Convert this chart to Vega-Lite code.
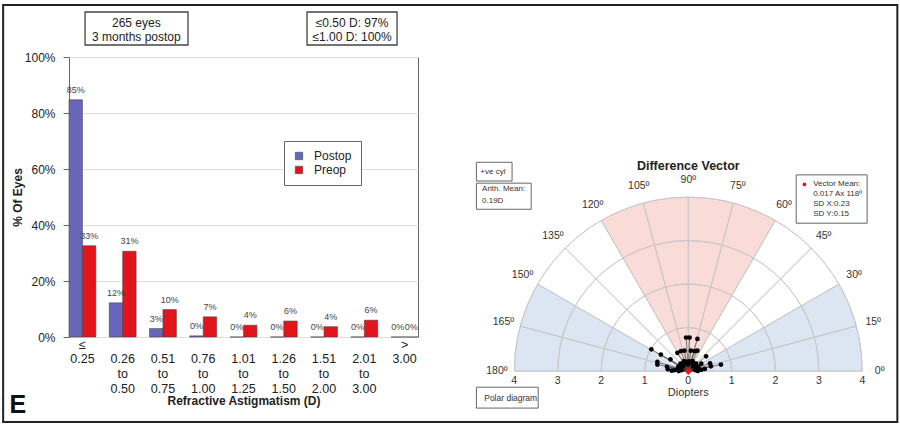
{
  "$schema": "https://vega.github.io/schema/vega-lite/v6.json",
  "padding": {"left": 2, "top": 4, "right": 0, "bottom": 0},
  "background": "white",
  "bounds": "flush",
  "spacing": 51,
  "config": {
    "font": "Liberation Sans",
    "view": {"stroke": null},
    "axis": {"labelFont": "Liberation Sans", "titleFont": "Liberation Sans"},
    "legend": {"labelFont": "Liberation Sans"}
  },
  "hconcat": [
    {
      "width": 349,
      "height": 280,
      "view": {"stroke": "#666", "strokeWidth": 1},
      "resolve": {"scale": {"x": "independent"}},
      "layer": [
        {
          "data": {
            "values": [
              {"range": "≤ 0.25", "group": "Postop", "pct": 0.847},
              {"range": "≤ 0.25", "group": "Preop", "pct": 0.326},
              {"range": "0.26 to 0.50", "group": "Postop", "pct": 0.122},
              {"range": "0.26 to 0.50", "group": "Preop", "pct": 0.306},
              {"range": "0.51 to 0.75", "group": "Postop", "pct": 0.03},
              {"range": "0.51 to 0.75", "group": "Preop", "pct": 0.098},
              {"range": "0.76 to 1.00", "group": "Postop", "pct": 0.004},
              {"range": "0.76 to 1.00", "group": "Preop", "pct": 0.072},
              {"range": "1.01 to 1.25", "group": "Postop", "pct": 0.0},
              {"range": "1.01 to 1.25", "group": "Preop", "pct": 0.042},
              {"range": "1.26 to 1.50", "group": "Postop", "pct": 0.0},
              {"range": "1.26 to 1.50", "group": "Preop", "pct": 0.057},
              {"range": "1.51 to 2.00", "group": "Postop", "pct": 0.0},
              {"range": "1.51 to 2.00", "group": "Preop", "pct": 0.037},
              {"range": "2.01 to 3.00", "group": "Postop", "pct": 0.0},
              {"range": "2.01 to 3.00", "group": "Preop", "pct": 0.06},
              {"range": "> 3.00", "group": "Postop", "pct": 0.0},
              {"range": "> 3.00", "group": "Preop", "pct": 0.0}
            ]
          },
          "layer": [
            {
              "mark": {"type": "bar", "stroke": "#444", "strokeWidth": 0.6},
              "encoding": {
                "x": {
                  "field": "range", "type": "nominal", "sort": null,
                  "scale": {"paddingInner": 0.3333, "paddingOuter": 0},
                  "axis": {
                    "title": "Refractive Astigmatism (D)",
                    "titleFontSize": 12, "titleFontWeight": "bold", "titleColor": "#222", "titlePadding": 1,
                    "labelAngle": 0, "labelFontSize": 12.5, "labelColor": "#222", "labelLineHeight": 14.7,
                    "labelPadding": 1, "ticks": false, "tickSize": 0, "domain": false,
                    "labelExpr": "indexof(datum.label, ' to ') >= 0 ? [' ', split(datum.label, ' ')[0], 'to', split(datum.label, ' ')[2]] : split(datum.label, ' ')"
                  }
                },
                "xOffset": {"field": "group", "type": "nominal", "sort": ["Postop", "Preop"], "scale": {"paddingInner": 0, "paddingOuter": 0}},
                "y": {
                  "field": "pct", "type": "quantitative",
                  "scale": {"domain": [0, 1], "nice": false},
                  "axis": {
                    "title": "% Of Eyes", "titleFontSize": 12, "titleFontWeight": "bold", "titleColor": "#222", "titlePadding": 0,
                    "format": ".0%", "values": [0, 0.1, 0.2, 0.3, 0.4, 0.5, 0.6, 0.7, 0.8, 0.9, 1.0],
                    "labelFontSize": 12, "labelColor": "#222", "labelPadding": 8,
                    "tickSize": 6, "tickColor": "#666", "domain": false,
                    "grid": true, "gridColor": "#dedede"
                  }
                },
                "color": {
                  "field": "group", "type": "nominal",
                  "scale": {"domain": ["Postop", "Preop"], "range": ["#6866ba", "#e3141c"]},
                  "legend": {
                    "title": null, "orient": "none", "legendX": 215, "legendY": 84,
                    "fillColor": "white", "strokeColor": "#666", "padding": 9,
                    "symbolType": "square", "symbolSize": 55, "symbolStrokeColor": "#444", "symbolStrokeWidth": 0.6,
                    "labelFontSize": 12, "labelColor": "#222", "labelOffset": 9, "rowPadding": 2
                  }
                }
              }
            },
            {
              "mark": {"type": "text", "baseline": "middle", "align": "center", "dy": -10, "fontSize": 9, "color": "#444"},
              "encoding": {
                "x": {"field": "range", "type": "nominal", "sort": null},
                "xOffset": {"field": "group", "type": "nominal", "sort": ["Postop", "Preop"]},
                "y": {"field": "pct", "type": "quantitative"},
                "text": {"field": "pct", "type": "quantitative", "format": ".0%"}
              }
            },
            {
              "data": {"values": [{}]},
              "mark": {"type": "text", "align": "left", "baseline": "alphabetic", "fontSize": 25, "fontWeight": "bold", "color": "#111", "dx": -73},
              "encoding": {
                "x": {"datum": "≤ 0.25", "type": "nominal"},
                "y": {"datum": -0.271, "type": "quantitative"},
                "text": {"value": "E"}
              }
            }
          ]
        },
        {
          "data": {"values": [{}]},
          "layer": [
            {
              "mark": {"type": "rect", "fill": "white", "stroke": "#444", "strokeWidth": 1.3},
              "encoding": {
                "x": {"datum": 0.046, "type": "quantitative", "scale": {"domain": [0, 1], "nice": false, "zero": false}, "axis": null},
                "x2": {"datum": 0.341},
                "y": {"datum": 1.0429, "type": "quantitative"},
                "y2": {"datum": 1.1607}
              }
            },
            {
              "mark": {"type": "rect", "fill": "white", "stroke": "#444", "strokeWidth": 1.3},
              "encoding": {
                "x": {"datum": 0.682, "type": "quantitative"},
                "x2": {"datum": 0.94},
                "y": {"datum": 1.0429, "type": "quantitative"},
                "y2": {"datum": 1.1607}
              }
            },
            {
              "mark": {"type": "text", "align": "center", "baseline": "middle", "fontSize": 12, "lineHeight": 13.4, "lineBreak": "\n", "color": "#222"},
              "encoding": {
                "x": {"datum": 0.193, "type": "quantitative"},
                "y": {"datum": 1.1204, "type": "quantitative"},
                "text": {"value": "265 eyes\n3 months postop"}
              }
            },
            {
              "mark": {"type": "text", "align": "center", "baseline": "middle", "fontSize": 12, "lineHeight": 13.4, "lineBreak": "\n", "color": "#222"},
              "encoding": {
                "x": {"datum": 0.811, "type": "quantitative"},
                "y": {"datum": 1.1204, "type": "quantitative"},
                "text": {"value": "≤0.50 D: 97%\n≤1.00 D: 100%"}
              }
            }
          ]
        }
      ]
    },
    {
      "width": 429,
      "height": 355,
      "layer": [
        {
          "data": {"values": [{}]},
          "mark": {"type": "rect", "filled": false, "stroke": "#222", "strokeWidth": 2},
          "encoding": {
            "x": {"datum": -15.747, "type": "quantitative", "scale": {"domain": [-5.04, 4.82], "nice": false, "zero": false}, "axis": null},
            "x2": {"datum": 4.805},
            "y": {"datum": -1.172, "type": "quantitative", "scale": {"domain": [-0.94, 7.22], "nice": false, "zero": false}, "axis": null},
            "y2": {"datum": 8.414}
          }
        },
        {
          "data": {"values": [
            {"a1": 60, "a2": 120, "zone": "vertical"},
            {"a1": 0, "a2": 30, "zone": "horizontal"},
            {"a1": 150, "a2": 180, "zone": "horizontal"}
          ]},
          "mark": {"type": "arc"},
          "encoding": {
            "x": {"datum": 0, "type": "quantitative"},
            "y": {"datum": 0, "type": "quantitative"},
            "theta": {"field": "a1", "type": "quantitative", "stack": null, "scale": {"domain": [0, 180], "range": [1.5708, -1.5708]}},
            "theta2": {"field": "a2"},
            "radius": {"datum": 4, "type": "quantitative", "scale": {"type": "linear", "domain": [0, 4], "range": [0, 174], "zero": true, "nice": false}},
            "fill": {"field": "zone", "type": "nominal", "scale": {"domain": ["vertical", "horizontal"], "range": ["#f9dcd7", "#dce5f2"]}, "legend": null}
          }
        },
        {
          "data": {"values": [{"r": 1}, {"r": 2}, {"r": 3}, {"r": 4}]},
          "mark": {"type": "arc", "filled": false, "stroke": "#c4c4c4", "strokeWidth": 0.8},
          "encoding": {
            "x": {"datum": 0, "type": "quantitative"},
            "y": {"datum": 0, "type": "quantitative"},
            "theta": {"datum": 0, "type": "quantitative", "stack": null},
            "theta2": {"datum": 180},
            "radius": {"field": "r", "type": "quantitative"},
            "radius2": {"field": "r"}
          }
        },
        {
          "data": {"values": [{"a": 0}, {"a": 15}, {"a": 30}, {"a": 45}, {"a": 60}, {"a": 75}, {"a": 90}, {"a": 105}, {"a": 120}, {"a": 135}, {"a": 150}, {"a": 165}, {"a": 180}]},
          "mark": {"type": "arc", "filled": false, "stroke": "#c4c4c4", "strokeWidth": 0.8},
          "encoding": {
            "x": {"datum": 0, "type": "quantitative"},
            "y": {"datum": 0, "type": "quantitative"},
            "theta": {"field": "a", "type": "quantitative", "stack": null},
            "theta2": {"field": "a"},
            "radius": {"datum": 4, "type": "quantitative"}
          }
        },
        {
          "data": {"values": [
            {"a": 0, "lab": "0º"}, {"a": 15, "lab": "15º"}, {"a": 30, "lab": "30º"}, {"a": 45, "lab": "45º"},
            {"a": 60, "lab": "60º"}, {"a": 75, "lab": "75º"}, {"a": 90, "lab": "90º"}, {"a": 105, "lab": "105º"},
            {"a": 120, "lab": "120º"}, {"a": 135, "lab": "135º"}, {"a": 150, "lab": "150º"}, {"a": 165, "lab": "165º"},
            {"a": 180, "lab": "180º"}
          ]},
          "mark": {"type": "text", "align": "center", "baseline": "middle", "fontSize": 10.5, "color": "#333"},
          "encoding": {
            "x": {"datum": 0, "type": "quantitative"},
            "y": {"datum": 0, "type": "quantitative"},
            "theta": {"field": "a", "type": "quantitative", "stack": null},
            "radius": {"datum": 4.4, "type": "quantitative"},
            "text": {"field": "lab"}
          }
        },
        {
          "data": {"name": "vectors", "values": [
            {"x": -0.05, "y": 0.77}, {"x": 0.03, "y": 0.77}, {"x": 0.21, "y": 0.74},
            {"x": -0.85, "y": 0.5}, {"x": -0.63, "y": 0.38}, {"x": -0.41, "y": 0.27},
            {"x": -0.25, "y": 0.42}, {"x": -0.17, "y": 0.46}, {"x": -0.09, "y": 0.47},
            {"x": 0.06, "y": 0.47}, {"x": 0.15, "y": 0.46}, {"x": 0.21, "y": 0.47},
            {"x": 0.41, "y": 0.34}, {"x": -0.71, "y": 0.21}, {"x": -0.71, "y": 0.15},
            {"x": -0.49, "y": 0.1}, {"x": -0.47, "y": 0.04}, {"x": -0.32, "y": 0.02},
            {"x": 0.5, "y": 0.18}, {"x": 0.52, "y": 0.11}, {"x": 0.75, "y": 0.15},
            {"x": 0.3, "y": 0.17}, {"x": -0.38, "y": 0.01}, {"x": 0.3, "y": 0.03},
            {"x": 0.38, "y": 0.05},
            {"x": 0.22, "y": 0.0}, {"x": 0.213, "y": 0.057}, {"x": 0.19, "y": 0.11}, {"x": 0.156, "y": 0.156},
            {"x": 0.11, "y": 0.19}, {"x": 0.057, "y": 0.213}, {"x": 0.0, "y": 0.22}, {"x": -0.057, "y": 0.213},
            {"x": -0.11, "y": 0.19}, {"x": -0.156, "y": 0.156}, {"x": -0.19, "y": 0.11}, {"x": -0.213, "y": 0.057},
            {"x": -0.22, "y": 0.0}, {"x": 0.2, "y": 0.09}, {"x": 0.13, "y": 0.18}, {"x": 0.03, "y": 0.22},
            {"x": -0.08, "y": 0.2}, {"x": -0.17, "y": 0.14}, {"x": -0.21, "y": 0.07},
            {"x": 0.16, "y": 0.02}, {"x": 0.11, "y": 0.11}, {"x": 0.0, "y": 0.16}, {"x": -0.11, "y": 0.11}, {"x": -0.16, "y": 0.02},
            {"x": 0.25, "y": 0.04}, {"x": 0.23, "y": 0.1}, {"x": 0.18, "y": 0.17}, {"x": 0.1, "y": 0.23},
            {"x": -0.1, "y": 0.23}, {"x": -0.18, "y": 0.17}, {"x": -0.23, "y": 0.1}, {"x": -0.25, "y": 0.04}
          ]},
          "layer": [
            {
              "mark": {"type": "rule", "stroke": "#333", "strokeWidth": 0.6},
              "encoding": {
                "x": {"field": "x", "type": "quantitative"},
                "y": {"field": "y", "type": "quantitative"},
                "x2": {"datum": 0},
                "y2": {"datum": 0}
              }
            },
            {
              "mark": {"type": "point", "filled": true, "color": "#000", "size": 22, "opacity": 1},
              "encoding": {
                "x": {"field": "x", "type": "quantitative"},
                "y": {"field": "y", "type": "quantitative"}
              }
            }
          ]
        },
        {
          "data": {"values": [{}]},
          "layer": [
            {
              "mark": {"type": "point", "shape": "diamond", "filled": true, "color": "#e3141c", "size": 60, "opacity": 1},
              "encoding": {"x": {"datum": 0, "type": "quantitative"}, "y": {"datum": 0, "type": "quantitative"}}
            },
            {
              "mark": {"type": "rect", "fill": "white", "stroke": "#666", "strokeWidth": 1},
              "encoding": {"x": {"datum": -4.87, "type": "quantitative"}, "x2": {"datum": -4.05}, "y": {"datum": 4.37, "type": "quantitative"}, "y2": {"datum": 4.8}}
            },
            {
              "mark": {"type": "rect", "fill": "white", "stroke": "#666", "strokeWidth": 1},
              "encoding": {"x": {"datum": -4.87, "type": "quantitative"}, "x2": {"datum": -3.61}, "y": {"datum": 3.72, "type": "quantitative"}, "y2": {"datum": 4.32}}
            },
            {
              "mark": {"type": "rect", "fill": "white", "stroke": "#666", "strokeWidth": 1},
              "encoding": {"x": {"datum": 2.48, "type": "quantitative"}, "x2": {"datum": 4.11}, "y": {"datum": 3.4, "type": "quantitative"}, "y2": {"datum": 4.51}}
            },
            {
              "mark": {"type": "rect", "fill": "white", "stroke": "#666", "strokeWidth": 1},
              "encoding": {"x": {"datum": -4.87, "type": "quantitative"}, "x2": {"datum": -3.45}, "y": {"datum": -0.85, "type": "quantitative"}, "y2": {"datum": -0.37}}
            },
            {
              "mark": {"type": "point", "shape": "circle", "filled": true, "color": "#e3141c", "size": 14, "opacity": 1},
              "encoding": {"x": {"datum": 2.67, "type": "quantitative"}, "y": {"datum": 4.29, "type": "quantitative"}}
            },
            {
              "mark": {"type": "text", "align": "left", "baseline": "middle", "fontSize": 8, "color": "#333"},
              "encoding": {"x": {"datum": -4.78, "type": "quantitative"}, "y": {"datum": 4.57, "type": "quantitative"}, "text": {"value": "+ve cyl"}}
            },
            {
              "mark": {"type": "text", "align": "left", "baseline": "middle", "fontSize": 8, "color": "#333", "lineBreak": "\n", "lineHeight": 11.4},
              "encoding": {"x": {"datum": -4.74, "type": "quantitative"}, "y": {"datum": 4.18, "type": "quantitative"}, "text": {"value": "Arith. Mean:\n0.19D"}}
            },
            {
              "mark": {"type": "text", "align": "left", "baseline": "middle", "fontSize": 8, "color": "#333", "lineBreak": "\n", "lineHeight": 9.9},
              "encoding": {"x": {"datum": 2.87, "type": "quantitative"}, "y": {"datum": 4.29, "type": "quantitative"}, "text": {"value": "Vector Mean:\n0.017 Ax 118º\nSD X:0.23\nSD Y:0.15"}}
            },
            {
              "mark": {"type": "text", "align": "left", "baseline": "middle", "fontSize": 8.5, "color": "#333"},
              "encoding": {"x": {"datum": -4.69, "type": "quantitative"}, "y": {"datum": -0.61, "type": "quantitative"}, "text": {"value": "Polar diagram"}}
            },
            {
              "mark": {"type": "text", "align": "center", "baseline": "middle", "fontSize": 12.5, "fontWeight": "bold", "color": "#222"},
              "encoding": {"x": {"datum": 0, "type": "quantitative"}, "y": {"datum": 4.72, "type": "quantitative"}, "text": {"value": "Difference Vector"}}
            },
            {
              "mark": {"type": "text", "align": "center", "baseline": "middle", "fontSize": 11, "color": "#333"},
              "encoding": {"x": {"datum": 0, "type": "quantitative"}, "y": {"datum": -0.51, "type": "quantitative"}, "text": {"value": "Diopters"}}
            }
          ]
        },
        {
          "data": {"values": [
            {"d": -4, "lab": "4"}, {"d": -3, "lab": "3"}, {"d": -2, "lab": "2"}, {"d": -1, "lab": "1"},
            {"d": 0, "lab": "0"}, {"d": 1, "lab": "1"}, {"d": 2, "lab": "2"}, {"d": 3, "lab": "3"}, {"d": 4, "lab": "4"}
          ]},
          "mark": {"type": "text", "align": "center", "baseline": "middle", "fontSize": 10.5, "color": "#333"},
          "encoding": {
            "x": {"field": "d", "type": "quantitative"},
            "y": {"datum": -0.23, "type": "quantitative"},
            "text": {"field": "lab"}
          }
        }
      ]
    }
  ]
}
